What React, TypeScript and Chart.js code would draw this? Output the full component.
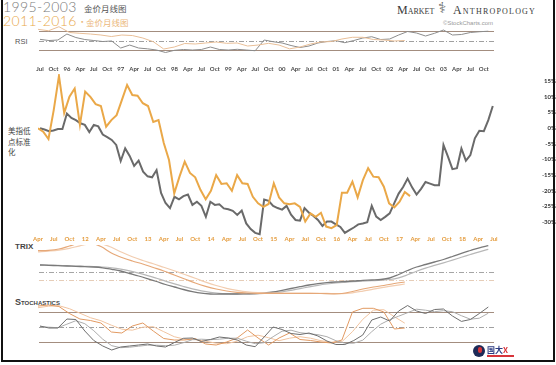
import React, { useEffect, useRef } from "react";
import { Chart, registerables } from "chart.js";
Chart.register(...registerables);

// ---------- tick labels ----------
const grayTickLabels = ["Jul","Oct","96","Apr","Jul","Oct","97","Apr","Jul","Oct","98","Apr","Jul","Oct","99","Apr","Jul","Oct","00","Apr","Jul","Oct","01","Apr","Jul","Oct","02","Apr","Jul","Oct","03","Apr","Jul","Oct"];
const orangeTickLabels = ["Apr","Jul","Oct","12","Apr","Jul","Oct","13","Apr","Jul","Oct","14","Apr","Jul","Oct","15","Apr","Jul","Oct","16","Apr","Jul","Oct","17","Apr","Jul","Oct","18","Apr","Jul"];
const pctTicks = [15, 10, 5, 0, -5, -10, -15, -20, -25, -30];

// ---------- main series (% vs dollar-index low), monthly ----------
const gold9503 = [
  -0.1, -0.5, -1.0, -0.8, -0.3, -0.3, 4.6, 3.2, 2.5, 1.5,
  1.0, -1.3, 1.0, 0.5, -2.1, -2.9, -3.8, -5.4, -10.5, -6.5,
  -8.9, -12.1, -10.4, -13.9, -15.4, -15.7, -13.4, -20.7, -23.9, -25.5,
  -21.9, -22.7, -21.7, -21.2, -24.5, -23.5, -24.8, -28.3, -23.5, -24.5,
  -24.3, -25.6, -25.9, -26.4, -27.7, -26.3, -30.4, -32.2, -33.4, -33.8,
  -22.8, -23.2, -24.8, -25.5, -26.0, -24.8, -27.6, -29.3, -29.5, -25.5,
  -27.0, -28.0, -29.3, -31.2, -29.8, -29.8, -30.7, -31.5, -33.4, -32.5,
  -31.7, -30.7, -30.4, -30.0, -24.8, -28.2, -29.3, -28.3, -27.2, -24.0,
  -20.9, -18.8, -16.1, -18.9, -21.2, -19.4, -17.2, -17.7, -18.2, -18.2,
  -5.4, -9.1, -13.1, -12.8, -6.5, -10.4, -8.6, -3.3, -0.9, -1.0,
  2.5, 7.0,
];
const gold1116 = [
  -0.1, -1.2, -3.5, 5.7, 16.6, 4.8, 10.0, 12.6, 1.0, 11.6,
  9.9, 7.6, 7.0, 0.4, 2.5, 4.1, 8.9, 13.7, 10.5, 10.3,
  7.9, 7.0, 1.9, 2.5, -4.8, -10.2, -20.8, -15.5, -10.7, -14.3,
  -15.7, -19.7, -22.7, -20.0, -15.0, -17.8, -17.6, -20.0, -15.0, -17.6,
  -17.8, -21.9, -24.0, -25.1, -24.2, -17.6, -22.1, -24.0, -24.3, -24.0,
  -25.1, -29.8, -27.2, -28.3, -27.0, -31.4, -31.9, -30.9, -20.6, -20.6,
  -17.1, -22.1, -16.6, -12.8, -15.5, -15.7, -18.7, -24.0, -25.3, -23.5,
  -20.4, -21.7,
];

// ---------- indicators, every 2 months ----------
const rsi9503 = [52.9, 50.4, 51.5, 64.1, 56.7, 52.5, 50.4, 48.3, 49.4, 34.6, 40.9, 34.6, 32.9, 30.4, 25.2, 29.8, 31.5, 30.4, 31.5, 36.7, 31.5, 30.4, 31.9, 30.4, 28.9, 51.5, 47.9, 45.2, 39.9, 35.7, 38.8, 45.2, 48.3, 50, 45.8, 50.4, 55.7, 58.4, 52.5, 53.6, 62, 69.4, 66.2, 59.9, 65.6, 72.5, 62, 63.1, 67.3, 68.9, 70];
const rsi1116 = [74, 71, 79.5, 67.3, 65.6, 64.1, 62, 58.8, 62, 60.9, 55.7, 47.9, 32.5, 36.7, 44.1, 43.1, 45.2, 47.3, 44.5, 45.2, 38.8, 40.9, 44.5, 40.9, 32.9, 36.7, 43.1, 47.3, 48.3, 53.6, 57.2, 57.2, 52.5, 51.5, 49.4, 50.4];
const rsiLevels = [70, 50, 30];

const trix9503 = [0.73, 0.70, 0.66, 0.63, 0.60, 0.56, 0.53, 0.45, 0.30, 0.13, -0.12, -0.37, -0.64, -0.92, -1.22, -1.47, -1.72, -1.93, -2.09, -2.17, -2.17, -2.17, -2.17, -2.15, -2.13, -2.07, -1.97, -1.80, -1.62, -1.44, -1.27, -1.14, -1.04, -0.97, -0.92, -0.87, -0.81, -0.77, -0.72, -0.57, -0.22, 0.18, 0.53, 0.78, 1.03, 1.28, 1.58, 1.90, 2.18, 2.45, 2.66];
const trixSig9503 = [0.75, 0.72, 0.69, 0.66, 0.63, 0.60, 0.57, 0.53, 0.45, 0.32, 0.14, -0.08, -0.33, -0.60, -0.88, -1.16, -1.42, -1.66, -1.86, -2.01, -2.10, -2.14, -2.16, -2.16, -2.15, -2.12, -2.06, -1.95, -1.80, -1.63, -1.46, -1.30, -1.17, -1.07, -1.00, -0.94, -0.89, -0.84, -0.79, -0.72, -0.55, -0.25, 0.10, 0.42, 0.69, 0.95, 1.22, 1.50, 1.78, 2.05, 2.30];
const trix1116 = [2.16, 2.20, 2.33, 2.63, 2.93, 2.93, 2.58, 1.93, 1.48, 1.13, 0.83, 0.48, 0.13, -0.27, -0.67, -1.07, -1.40, -1.67, -1.87, -2.00, -2.07, -2.10, -2.10, -2.10, -2.10, -2.10, -2.10, -2.12, -2.15, -2.12, -1.92, -1.67, -1.47, -1.32, -1.12, -0.97];
const trixSig1116 = [2.05, 2.12, 2.22, 2.40, 2.65, 2.85, 2.85, 2.50, 2.00, 1.55, 1.18, 0.85, 0.50, 0.15, -0.22, -0.60, -0.98, -1.32, -1.60, -1.80, -1.95, -2.03, -2.07, -2.09, -2.10, -2.10, -2.10, -2.10, -2.12, -2.13, -2.05, -1.88, -1.68, -1.50, -1.33, -1.17];
const trixLevels = [0, -0.77];

const stochK9503 = [51.4, 47.4, 47.4, 65.4, 64.4, 41.4, 22.4, 11.4, 3.4, 9.4, 11.4, 13.4, 15.4, 11.4, 9.4, 18.4, 26.8, 27.4, 20.4, 24.4, 29.4, 27.4, 23.4, 13.4, 10, 29.4, 49.4, 44.4, 36.4, 34.4, 37.4, 31.4, 21.4, 14.4, 14.4, 22.4, 33.4, 63.4, 69.4, 61.4, 81.4, 92.4, 81.4, 76.4, 84.4, 85.4, 71.4, 60.6, 64.4, 76.4, 89.4];
const stochD9503 = [50, 49, 48, 55, 62, 56, 42, 25, 12, 8, 9, 11, 13, 13, 12, 13, 18, 24, 25, 24, 25, 27, 27, 21, 16, 18, 30, 41, 43, 38, 36, 34, 30, 22, 17, 17, 23, 40, 55, 64, 71, 78, 85, 83, 80, 82, 80, 72, 65, 67, 77];
const stochK1116 = [91.4, 93.4, 90.4, 76.4, 65.4, 62.4, 57.4, 39.4, 37.4, 51.4, 57.4, 41.4, 26.4, 23.4, 23.4, 26.4, 15.4, 13.4, 19.4, 27.4, 43.4, 27.4, 13.4, 27.4, 37.4, 24.4, 22.4, 19.4, 17.4, 23.4, 79.4, 86.8, 86.8, 79.4, 45.4, 47.4];
const stochD1116 = [88, 91, 92, 86, 77, 68, 62, 53, 45, 43, 49, 50, 40, 30, 25, 24, 21, 17, 16, 21, 30, 33, 28, 22, 27, 30, 27, 22, 19, 20, 40, 65, 83, 84, 70, 57];
const stochLevels = [80, 50, 20];

// month-index window shown by each time axis
const GRAY_MIN = -0.446, GRAY_MAX = 101.27;
const ORANGE_MIN = 0, ORANGE_MAX = 87.02;

const toXY = (vals: number[], step: number) => vals.map((v, i) => ({ x: i * step, y: v }));

const refLinePlugin = {
  id: "refLines",
  beforeDatasetsDraw(chart: any, _a: any, opts: any) {
    const { ctx, chartArea } = chart;
    const scale = chart.scales[opts.axis || "y"];
    (opts.lines || []).forEach((l: any) => {
      const y = Math.round(scale.getPixelForValue(l.value)) + 0.5;
      ctx.save();
      ctx.beginPath();
      ctx.setLineDash(l.dash || []);
      ctx.strokeStyle = l.color;
      ctx.lineWidth = l.width || 1;
      ctx.moveTo(chartArea.left + 1, y);
      ctx.lineTo(chartArea.right, y);
      ctx.stroke();
      ctx.restore();
    });
  },
};

const hiddenX = (min: number, max: number) => ({ type: "linear", axis: "x", min, max, bounds: "data", display: false });
const line = (data: any, xAxisID: string, color: string, width: number, extra: any = {}) => ({
  data, xAxisID, yAxisID: "y", borderColor: color, borderWidth: width, pointRadius: 0, fill: false, tension: 0, ...extra,
});
const base = (padding: any, scales: any, refLines: any) => ({
  responsive: false,
  animation: false,
  events: [],
  layout: { padding },
  plugins: { legend: { display: false }, tooltip: { enabled: false }, refLines },
  scales,
});

const DASHDOT = [5, 2, 1, 2];
const SOLID_BROWN = "#a38d7f";

function makeRSI(): any {
  return {
    type: "line",
    data: { datasets: [
      line(toXY(rsi1116, 2), "xO", "#e9bf98", 1),
      line(toXY(rsi9503, 2), "xG", "#8c8c8c", 1),
    ] },
    options: base({ left: 38, right: 62, top: 4, bottom: 4 }, {
      xG: hiddenX(GRAY_MIN, GRAY_MAX), xO: hiddenX(ORANGE_MIN, ORANGE_MAX),
      y: { type: "linear", min: 17.8, max: 85.2, display: false },
    }, { axis: "y", lines: [
      { value: rsiLevels[0], color: SOLID_BROWN, width: 1.2 },
      { value: rsiLevels[1], color: "#a0a0a0", width: 1, dash: DASHDOT },
      { value: rsiLevels[2], color: SOLID_BROWN, width: 1.2 },
    ] }),
    plugins: [refLinePlugin],
  };
}

const tickFont = { family: "Lato, 'DejaVu Sans', sans-serif", size: 6, weight: "bold", lineHeight: 1 };

function makeMain(): any {
  return {
    type: "line",
    data: { datasets: [
      line(toXY(gold1116, 1), "xO", "#eaa848", 2),
      line(toXY(gold9503, 1), "xG", "#6a6a6a", 2),
    ] },
    options: base({ left: 38, right: 0, top: 0, bottom: 0 }, {
      xG: {
        type: "linear", axis: "x", position: "top", min: GRAY_MIN, max: GRAY_MAX, bounds: "data",
        grid: { display: false, drawTicks: false }, border: { display: false },
        afterBuildTicks: (s: any) => { s.ticks = grayTickLabels.map((_, i) => ({ value: i * 3 })); },
        afterFit: (s: any) => { s.height = 18; },
        ticks: { autoSkip: false, maxRotation: 0, minRotation: 0, padding: 2, color: "#4a4a4a", font: tickFont,
          callback: (_v: any, i: number) => grayTickLabels[i] },
      },
      xO: {
        type: "linear", axis: "x", position: "bottom", min: ORANGE_MIN, max: ORANGE_MAX, bounds: "data",
        grid: { display: false, drawTicks: false }, border: { display: false },
        afterBuildTicks: (s: any) => { s.ticks = orangeTickLabels.map((_, i) => ({ value: i * 3 })); },
        afterFit: (s: any) => { s.height = 14; },
        ticks: { autoSkip: false, maxRotation: 0, minRotation: 0, padding: 0, color: "#e49b3c", font: tickFont,
          callback: (_v: any, i: number) => orangeTickLabels[i] },
      },
      y: {
        type: "linear", position: "right", min: -34.4, max: 17.2, bounds: "data",
        grid: { display: false, drawTicks: false }, border: { display: false },
        afterBuildTicks: (s: any) => { s.ticks = pctTicks.map((v) => ({ value: v })); },
        afterFit: (s: any) => { s.width = 62; },
        ticks: { crossAlign: "far", padding: 8, color: "#333", font: { ...tickFont, lineHeight: 1.2 },
          callback: (v: any) => v + "%" },
      },
    }, { axis: "y", lines: [] }),
    plugins: [refLinePlugin],
  };
}

function makeTRIX(): any {
  return {
    type: "line",
    data: { datasets: [
      line(toXY(trix1116, 2), "xO", "#e6a878", 1.2, { tension: 0.35, clip: 0 }),
      line(toXY(trixSig1116, 2), "xO", "#f2cdb0", 1.2, { tension: 0.35, clip: 0 }),
      line(toXY(trix9503, 2), "xG", "#7a7a7a", 1.3, { tension: 0.35, clip: 0 }),
      line(toXY(trixSig9503, 2), "xG", "#b8b8b8", 1.2, { tension: 0.35, clip: 0 }),
    ] },
    options: base({ left: 38, right: 62, top: 5, bottom: 2 }, {
      xG: hiddenX(GRAY_MIN, GRAY_MAX), xO: hiddenX(ORANGE_MIN, ORANGE_MAX),
      y: { type: "linear", min: -2.77, max: 2.73, display: false },
    }, { axis: "y", lines: [
      { value: trixLevels[0], color: "#a5a5a5", width: 1, dash: DASHDOT },
      { value: trixLevels[1], color: "#e6cdb8", width: 1, dash: DASHDOT },
    ] }),
    plugins: [refLinePlugin],
  };
}

function makeStoch(): any {
  return {
    type: "line",
    data: { datasets: [
      line(toXY(stochK9503, 2), "xG", "#6e6e6e", 1),
      line(toXY(stochD9503, 2), "xG", "#adadad", 1),
      line(toXY(stochK1116, 2), "xO", "#e29a62", 1),
      line(toXY(stochD1116, 2), "xO", "#f1c4a0", 1),
    ] },
    options: base({ left: 38, right: 62, top: 4, bottom: 4 }, {
      xG: hiddenX(GRAY_MIN, GRAY_MAX), xO: hiddenX(ORANGE_MIN, ORANGE_MAX),
      y: { type: "linear", min: -0.6, max: 103.4, display: false },
    }, { axis: "y", lines: [
      { value: stochLevels[0], color: SOLID_BROWN, width: 1.2 },
      { value: stochLevels[1], color: "#a0a0a0", width: 1, dash: DASHDOT },
      { value: stochLevels[2], color: SOLID_BROWN, width: 1.2 },
    ] }),
    plugins: [refLinePlugin],
  };
}

function ChartCanvas({ top, height, build }: { top: number; height: number; build: () => any }) {
  const ref = useRef<HTMLCanvasElement | null>(null);
  useEffect(() => {
    const chart = new Chart(ref.current as HTMLCanvasElement, build());
    return () => chart.destroy();
  }, []);
  return (
    <canvas ref={ref} width={556} height={height}
      style={{ position: "absolute", left: 0, top, width: 556, height }} />
  );
}

const abs = (s: any): any => ({ position: "absolute", whiteSpace: "nowrap", margin: 0, ...s });

export default function App() {
  return (
    <div style={{ position: "absolute", left: 0, top: 0, width: 556, height: 365, background: "#fff", overflow: "hidden", fontFamily: "'Liberation Sans', Arial, sans-serif" }}>
      {/* titles */}
      <div style={abs({ left: 3, top: 0, fontSize: 14, lineHeight: "14px", color: "#7a7a7a", fontFamily: "Lato, sans-serif", fontWeight: 300, letterSpacing: 0.4 })}>1995-2003</div>
      <div style={abs({ left: 84, top: 3.5, fontSize: 8.5, lineHeight: "9px", color: "#555", fontFamily: "'Noto Sans CJK SC', sans-serif" })}>金价月线图</div>
      <div style={abs({ left: 3, top: 14, fontSize: 14, lineHeight: "14px", color: "#e9a94b", fontFamily: "Lato, sans-serif", fontWeight: 300, letterSpacing: 0.4 })}>2011-2016</div>
      <div style={abs({ left: 78, top: 17, fontSize: 8.5, lineHeight: "9px", color: "#ebb77a", fontFamily: "'Noto Sans CJK SC', sans-serif" })}>·</div>
      <div style={abs({ left: 86, top: 18, fontSize: 8.5, lineHeight: "9px", color: "#ebb77a", fontFamily: "'Noto Sans CJK SC', sans-serif" })}>金价月线图</div>

      {/* brand */}
      <div style={abs({ left: 397, top: 3, fontSize: 12, lineHeight: "14px", color: "#3a3a3a", fontFamily: "'Liberation Serif', serif", fontVariant: "small-caps" })}>Market</div>
      <div style={abs({ left: 438, top: 0, fontSize: 15, lineHeight: "17px", color: "#666", fontFamily: "'DejaVu Sans', sans-serif" })}>⚕</div>
      <div style={abs({ left: 453, top: 3, fontSize: 12, lineHeight: "14px", color: "#3a3a3a", fontFamily: "'Liberation Serif', serif", fontVariant: "small-caps", letterSpacing: 1.2 })}>Anthropology</div>
      <div style={abs({ left: 443, top: 20, fontSize: 6, lineHeight: "7px", color: "#999" })}>©StockCharts.com</div>

      {/* panel labels */}
      <div style={abs({ left: 15, top: 37, fontSize: 7.5, lineHeight: "9px", color: "#555" })}>RSI</div>
      <div style={abs({ left: 8, top: 126, fontSize: 7.5, lineHeight: "10.5px", color: "#444", fontFamily: "'Noto Sans CJK SC', sans-serif", whiteSpace: "pre" })}>{"美指低\n点标准\n化"}</div>
      <div style={abs({ left: 15, top: 242, fontSize: 8, lineHeight: "9px", color: "#444", fontWeight: 600 })}>TRIX</div>
      <div style={abs({ left: 15, top: 297, fontSize: 9, lineHeight: "10px", color: "#444", fontWeight: 700, fontVariant: "small-caps" })}>Stochastics</div>

      <ChartCanvas top={20} height={40} build={makeRSI} />
      <ChartCanvas top={56} height={194} build={makeMain} />
      <ChartCanvas top={240} height={62} build={makeTRIX} />
      <ChartCanvas top={296} height={60} build={makeStoch} />

      {/* corner logo */}
      <div style={abs({ left: 473, top: 345, width: 12, height: 12, borderRadius: "50%", background: "#1d2a57" })} />
      <div style={abs({ left: 478, top: 347, width: 4, height: 6, borderRadius: "2px", background: "#d8343a" })} />
      <div style={abs({ left: 487, top: 345, fontSize: 8, lineHeight: "9px", color: "#2b3a80", fontWeight: 700, fontFamily: "'Noto Sans CJK SC', sans-serif" })}>国大<span style={{ color: "#d8343a" }}>X</span></div>
      <div style={abs({ left: 487, top: 355, width: 27, height: 2, background: "#d8343a" })} />

      {/* frame */}
      <div style={abs({ left: 1, top: 0, width: 2, height: 362, background: "#111" })} />
      <div style={abs({ left: 1, top: 360, width: 554, height: 2, background: "#111" })} />
      <div style={abs({ left: 553, top: 0, width: 2, height: 362, background: "#111" })} />
    </div>
  );
}
